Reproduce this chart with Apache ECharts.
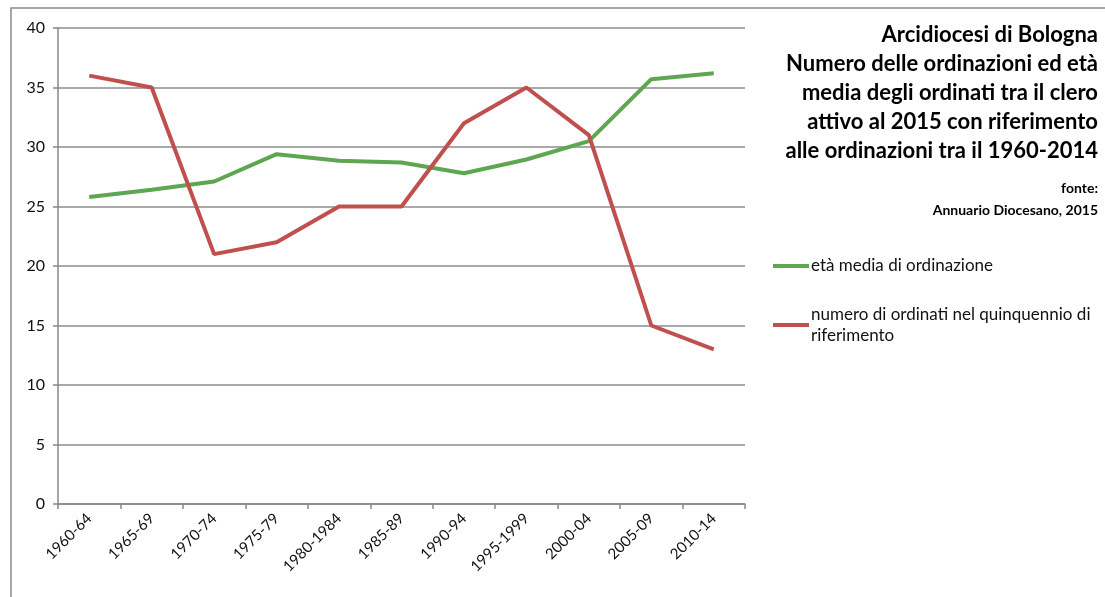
<!DOCTYPE html>
<html>
<head>
<meta charset="utf-8">
<script src="https://cdn.jsdelivr.net/npm/echarts@6/dist/echarts.min.js"></script>
<style>
html, body { margin: 0; padding: 0; background: #fff; }
#chart { width: 1105px; height: 597px; }
</style>
</head>
<body>
<div id="chart"></div>
<script>
var periodi = ['1960-64', '1965-69', '1970-74', '1975-79', '1980-1984', '1985-89',
  '1990-94', '1995-1999', '2000-04', '2005-09', '2010-14'];
var etaMedia = [25.8, 26.4, 27.1, 29.4, 28.85, 28.7, 27.8, 28.95, 30.5, 35.7, 36.2];
var numeroOrdinati = [36, 35, 21, 22, 25, 25, 32, 35, 31, 15, 13];
var nomeEta = 'età media di ordinazione';
var nomeNumero = 'numero di ordinati nel quinquennio di\nriferimento';
var titolo = 'Arcidiocesi di Bologna\nNumero delle ordinazioni ed età\nmedia degli ordinati tra il clero\nattivo al 2015 con riferimento\nalle ordinazioni tra il 1960-2014';
var fonte = 'fonte:\nAnnuario Diocesano, 2015';

var fontFam = 'Lato, "Open Sans", sans-serif';
var chart = echarts.init(document.getElementById('chart'));

option = {
  animation: false,
  backgroundColor: '#fff',
  textStyle: {fontFamily: fontFam, color: '#111'},
  grid: {left: 58, right: 360, top: 28, bottom: 93},
  legend: [{
    data: [nomeEta],
    left: 773,
    top: 255.5,
    padding: 0,
    itemWidth: 36,
    itemHeight: 4,
    icon: 'rect',
    textStyle: {fontSize: 17, color: '#111', lineHeight: 21, padding: [0, 0, 0, -3]}
  }, {
    data: [{name: nomeNumero, textStyle: {padding: [21, 0, 0, -3]}}],
    left: 773,
    top: 293.5,
    padding: 0,
    itemWidth: 36,
    itemHeight: 4,
    icon: 'rect',
    textStyle: {fontSize: 17, color: '#111', lineHeight: 21}
  }],
  graphic: [{
    type: 'rect',
    shape: {x: 11, y: 8, width: 1200, height: 700},
    style: {fill: 'none', stroke: '#8a8a8a', lineWidth: 1.5},
    silent: true
  }, {
    type: 'text',
    x: 1098,
    y: 20.5,
    style: {
      text: titolo, align: 'right', verticalAlign: 'top',
      font: 'bold 22px ' + fontFam, lineHeight: 29, fill: '#000'
    }
  }, {
    type: 'text',
    x: 1098,
    y: 177,
    style: {
      text: fonte, align: 'right', verticalAlign: 'top',
      font: 'bold 14px ' + fontFam, lineHeight: 22, fill: '#000'
    }
  }],
  xAxis: {
    type: 'category',
    data: periodi,
    boundaryGap: true,
    axisLine: {lineStyle: {color: '#888', width: 1.5}},
    axisTick: {show: true, alignWithLabel: false, length: 5, lineStyle: {color: '#888', width: 1.5}},
    axisLabel: {rotate: 45, fontSize: 15, color: '#111', margin: 12, interval: 0}
  },
  yAxis: {
    type: 'value',
    min: 0,
    max: 40,
    interval: 5,
    axisLine: {show: true, lineStyle: {color: '#888', width: 1.5}},
    axisTick: {show: true, length: 5, lineStyle: {color: '#888', width: 1.5}},
    axisLabel: {fontSize: 16, color: '#111', margin: 13},
    splitLine: {lineStyle: {color: '#8c8c8c', width: 1.5}}
  },
  series: [{
    name: nomeEta,
    type: 'line',
    data: etaMedia,
    symbol: 'none',
    color: '#5ea651',
    lineStyle: {width: 4, color: '#5ea651'}
  }, {
    name: nomeNumero,
    type: 'line',
    data: numeroOrdinati,
    symbol: 'none',
    color: '#c0504d',
    lineStyle: {width: 4, color: '#c0504d'}
  }]
};

chart.setOption(option);
</script>
</body>
</html>
